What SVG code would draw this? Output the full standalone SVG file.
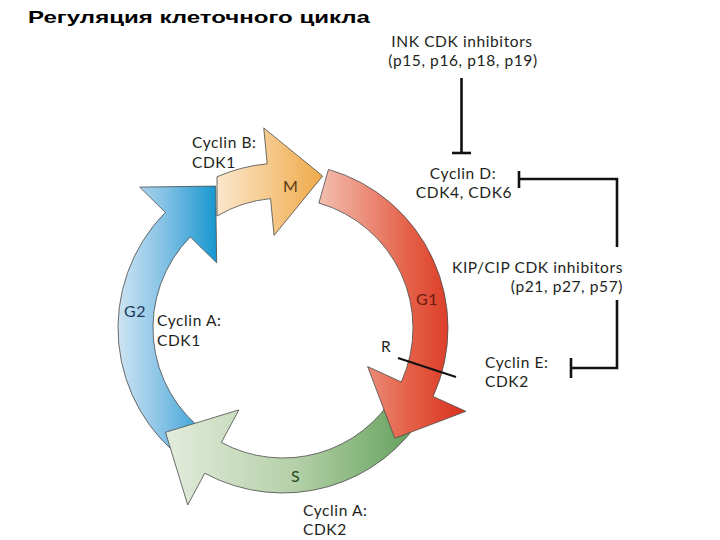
<svg xmlns="http://www.w3.org/2000/svg" width="720" height="540" viewBox="0 0 720 540">
<defs>
<linearGradient id="gBlue" gradientUnits="userSpaceOnUse" x1="117" y1="0" x2="217" y2="0">
<stop offset="0" stop-color="#cfe4f2"/><stop offset="0.5" stop-color="#7fbfe4"/><stop offset="1" stop-color="#1597cf"/>
</linearGradient>
<linearGradient id="gOrange" gradientUnits="userSpaceOnUse" x1="217" y1="0" x2="323" y2="0">
<stop offset="0" stop-color="#fbe7cc"/><stop offset="1" stop-color="#efaa48"/>
</linearGradient>
<linearGradient id="gRed" gradientUnits="userSpaceOnUse" x1="318" y1="0" x2="466" y2="0">
<stop offset="0" stop-color="#f3c0b2"/><stop offset="0.6" stop-color="#e5624a"/><stop offset="1" stop-color="#d9301c"/>
</linearGradient>
<linearGradient id="gGreen" gradientUnits="userSpaceOnUse" x1="165" y1="0" x2="426" y2="0">
<stop offset="0" stop-color="#e3ecdc"/><stop offset="0.5" stop-color="#b4d0a8"/><stop offset="1" stop-color="#5c9c55"/>
</linearGradient>
</defs>
<style>
.arc{stroke:#4a4a4a;stroke-width:0.8;stroke-linejoin:miter}
.t{font-family:Lato,"Open Sans","DejaVu Sans",sans-serif;font-size:15.5px;letter-spacing:0.6px;fill:#231f20}
.ph{font-family:Lato,"Open Sans","DejaVu Sans",sans-serif;font-size:16px;letter-spacing:0.5px}
.title{font-family:"Liberation Sans",Arial,sans-serif;font-size:17px;font-weight:bold;fill:#000}
.inh{fill:none;stroke:#111;stroke-width:2.6}
</style>
<rect width="720" height="540" fill="#fff"/>
<text class="title" x="28" y="23" textLength="342" lengthAdjust="spacingAndGlyphs">Регуляция клеточного цикла</text>

<g id="phase-G2">
<path class="arc" fill="url(#gBlue)" d="M188.36,463.17 A165,165 0 0 1 165.31,212.35 L139.63,187.12 L215.64,186.10 L216.66,262.82 L190.27,236.88 A130,130 0 0 0 208.43,434.49 Z"/>
<text class="ph" x="124" y="317" fill="#1d3b5c">G2</text>
</g>
<g id="phase-M">
<path class="arc" fill="url(#gOrange)" d="M217,176.78 A165,165 0 0 1 267.18,163.76 L263.73,127.92 L322.61,176.00 L274.09,235.43 L270.54,198.60 A130,130 0 0 0 217,216 Z"/>
<text class="ph" x="283" y="192" fill="#5a3b12">M</text>
</g>
<g id="phase-S">
<path class="arc" fill="url(#gGreen)" d="M425.89,410.5 A165,165 0 0 1 204.78,473.28 L187.71,504.98 L165.52,432.27 L238.91,409.88 L221.37,442.46 A130,130 0 0 0 395.58,393 Z"/>
<text class="ph" x="291" y="482" fill="#27481f">S</text>
</g>
<g id="phase-G1">
<path class="arc" fill="url(#gRed)" d="M328.48,169.39 A165,165 0 0 1 433.14,396.42 L465.90,411.35 L394.83,438.31 L367.63,366.57 L401.29,381.91 A130,130 0 0 0 318.83,203.04 Z"/>
<text class="ph" x="416" y="305" fill="#6e1a10">G1</text>
</g>

<g id="restriction-R">
<line x1="398" y1="358" x2="456" y2="377" stroke="#111" stroke-width="2"/>
<text class="t" x="381" y="352">R</text>
</g>

<g id="cyclinB-CDK1">
<text class="t" x="192" y="148">Cyclin B:</text>
<text class="t" x="192" y="168">CDK1</text>
</g>
<g id="cyclinA-CDK1">
<text class="t" x="157" y="326">Cyclin A:</text>
<text class="t" x="157" y="346">CDK1</text>
</g>
<g id="cyclinA-CDK2">
<text class="t" x="303" y="516">Cyclin A:</text>
<text class="t" x="303" y="535">CDK2</text>
</g>
<g id="ink-inhibitors">
<text class="t" x="462" y="46.5" text-anchor="middle">INK CDK inhibitors</text>
<text class="t" x="463" y="65.5" text-anchor="middle">(p15, p16, p18, p19)</text>
</g>
<g id="cyclinD-CDK46">
<text class="t" x="463" y="179" text-anchor="middle">Cyclin D:</text>
<text class="t" x="464" y="198" text-anchor="middle">CDK4, CDK6</text>
</g>
<g id="kip-cip-inhibitors">
<text class="t" x="623" y="273" text-anchor="end">KIP/CIP CDK inhibitors</text>
<text class="t" x="623" y="292" text-anchor="end">(p21, p27, p57)</text>
</g>
<g id="cyclinE-CDK2">
<text class="t" x="485" y="368">Cyclin E:</text>
<text class="t" x="485" y="387">CDK2</text>
</g>

<g id="connectors">
<path class="inh" d="M461.5,78 V153"/>
<path class="inh" d="M452,153 H471"/>
<path class="inh" d="M617,247 V179 H519"/>
<path class="inh" d="M519,171 V188"/>
<path class="inh" d="M617,300 V368 H571"/>
<path class="inh" d="M571,358 V378"/>
</g>
</svg>
